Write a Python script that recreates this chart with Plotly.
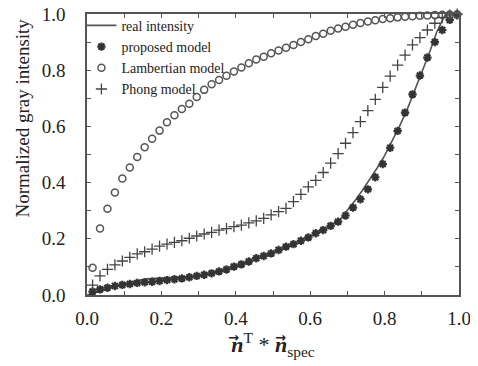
import plotly.graph_objects as go

# x positions of model samples
x_model = [0.015, 0.035, 0.055, 0.075, 0.095, 0.115, 0.135, 0.155, 0.175, 0.195,
           0.215, 0.235, 0.255, 0.275, 0.295, 0.315, 0.335, 0.355, 0.375, 0.395,
           0.415, 0.435, 0.455, 0.475, 0.495, 0.515, 0.535, 0.555, 0.575, 0.595,
           0.615, 0.635, 0.655, 0.675, 0.695, 0.715, 0.735, 0.755, 0.775, 0.795,
           0.815, 0.835, 0.855, 0.875, 0.895, 0.915, 0.935, 0.955, 0.975, 0.995]

proposed = [0.012, 0.020, 0.026, 0.032, 0.036, 0.039, 0.043, 0.045, 0.047, 0.050,
            0.053, 0.056, 0.059, 0.063, 0.068, 0.072, 0.077, 0.084, 0.091, 0.101,
            0.109, 0.119, 0.131, 0.139, 0.148, 0.160, 0.172, 0.181, 0.193, 0.205,
            0.220, 0.231, 0.246, 0.261, 0.283, 0.311, 0.341, 0.376, 0.419, 0.466,
            0.524, 0.584, 0.649, 0.714, 0.781, 0.845, 0.900, 0.943, 0.979, 0.996]

lambertian = [0.097, 0.237, 0.307, 0.365, 0.415, 0.454, 0.491, 0.526, 0.556, 0.585,
              0.615, 0.640, 0.662, 0.681, 0.705, 0.730, 0.750, 0.765, 0.780, 0.795,
              0.810, 0.825, 0.838, 0.848, 0.860, 0.870, 0.880, 0.890, 0.900, 0.910,
              0.922, 0.930, 0.940, 0.948, 0.955, 0.962, 0.968, 0.973, 0.978, 0.982,
              0.985, 0.988, 0.990, 0.992, 0.994, 0.995, 0.996, 0.997, 0.998, 0.999]

phong = [0.035, 0.068, 0.091, 0.107, 0.121, 0.134, 0.146, 0.154, 0.163, 0.174,
         0.181, 0.187, 0.193, 0.202, 0.210, 0.217, 0.223, 0.231, 0.236, 0.243,
         0.249, 0.257, 0.264, 0.273, 0.285, 0.297, 0.308, 0.332, 0.358, 0.385,
         0.408, 0.436, 0.469, 0.503, 0.540, 0.578, 0.617, 0.656, 0.696, 0.739,
         0.779, 0.818, 0.854, 0.890, 0.916, 0.943, 0.967, 0.987, 0.996, 1.000]

x_real = [0.0, 0.04, 0.08, 0.12, 0.16, 0.20, 0.24, 0.28, 0.32, 0.36, 0.40, 0.44,
          0.48, 0.52, 0.56, 0.60, 0.64, 0.68, 0.70, 0.72, 0.74, 0.76, 0.78, 0.80,
          0.82, 0.84, 0.86, 0.88, 0.90, 0.92, 0.94, 0.96, 0.97, 1.0]
real = [0.0, 0.017, 0.032, 0.047, 0.058, 0.060, 0.062, 0.066, 0.074, 0.085, 0.100, 0.120,
        0.140, 0.162, 0.184, 0.208, 0.234, 0.268, 0.300, 0.335, 0.372, 0.410, 0.452, 0.496,
        0.546, 0.600, 0.658, 0.725, 0.790, 0.860, 0.935, 0.990, 1.0, 1.0]

x_ticks = [0.0, 0.2, 0.4, 0.6, 0.8, 1.0]
tick_text = ["0.0", "0.2", "0.4", "0.6", "0.8", "1.0"]

serif = "Liberation Serif"

fig = go.Figure()
fig.add_trace(go.Scatter(x=x_real, y=real, mode="lines", name="real intensity",
                         line=dict(color="#555555", width=1.6), cliponaxis=False))
fig.add_trace(go.Scatter(x=x_model, y=proposed, mode="markers", name="proposed model",
                         marker=dict(symbol="asterisk-open", size=7, color="#333333",
                                     line=dict(color="#333333", width=2.2)), cliponaxis=False))
fig.add_trace(go.Scatter(x=x_model, y=lambertian, mode="markers", name="Lambertian model",
                         marker=dict(symbol="circle-open", size=7, color="#555555",
                                     line=dict(color="#555555", width=1.5)), cliponaxis=False))
fig.add_trace(go.Scatter(x=x_model, y=phong, mode="markers", name="Phong model",
                         marker=dict(symbol="cross-thin-open", size=8, color="#444444",
                                     line=dict(color="#444444", width=1.3)), cliponaxis=False))

axis_common = dict(
    range=[0, 1], showgrid=False, zeroline=False, automargin=False,
    showline=True, linecolor="#555555", linewidth=1.5, mirror="ticks",
    ticks="inside", ticklen=4, tickcolor="#555555", tickwidth=1,
    tickvals=x_ticks, ticktext=tick_text, ticklabeloverflow="allow",
    tickfont=dict(family=serif, size=19, color="#222222"),
    minor=dict(ticks="inside", ticklen=4, tickcolor="#555555", dtick=0.1, tick0=0, showgrid=False),
)

# the page body adds an 8px offset, so the figure is 8px smaller and left/top margins shifted
fig.update_layout(
    width=470, height=358,
    margin=dict(l=79, r=19, t=6, b=71, autoexpand=False),
    paper_bgcolor="white", plot_bgcolor="white",
    font=dict(family=serif, color="#222222"),
    showlegend=True,
    legend=dict(x=-0.015, y=1.015, xanchor="left", yanchor="top",
                bgcolor="rgba(0,0,0,0)", font=dict(family=serif, size=14, color="#222222"),
                tracegroupgap=0, itemwidth=30),
    xaxis=dict(**axis_common, ticklabelstandoff=5,
               title=dict(text="<b><i>n</i></b><sup>T</sup> * <b><i>n</i></b><sub>spec</sub>",
                          font=dict(family=serif, size=22), standoff=9)),
    yaxis=dict(**axis_common, ticklabelstandoff=16),
)

# y-axis title (placed above centre as in the reference)
fig.add_annotation(x=-0.172, y=0.628, xref="paper", yref="paper",
                   text="Normalized gray intensity", textangle=-90, showarrow=False,
                   xanchor="center", yanchor="middle",
                   font=dict(family=serif, size=19, color="#222222"))

# vector arrows above the two n's of the x title
for ax in [0.395, 0.519]:
    fig.add_annotation(x=ax, y=-0.150, xref="paper", yref="paper", text="<b>\u2192</b>",
                       showarrow=False, xanchor="center", yanchor="middle",
                       font=dict(family="DejaVu Sans", size=13, color="#222222"))

fig.write_html("out.html")
